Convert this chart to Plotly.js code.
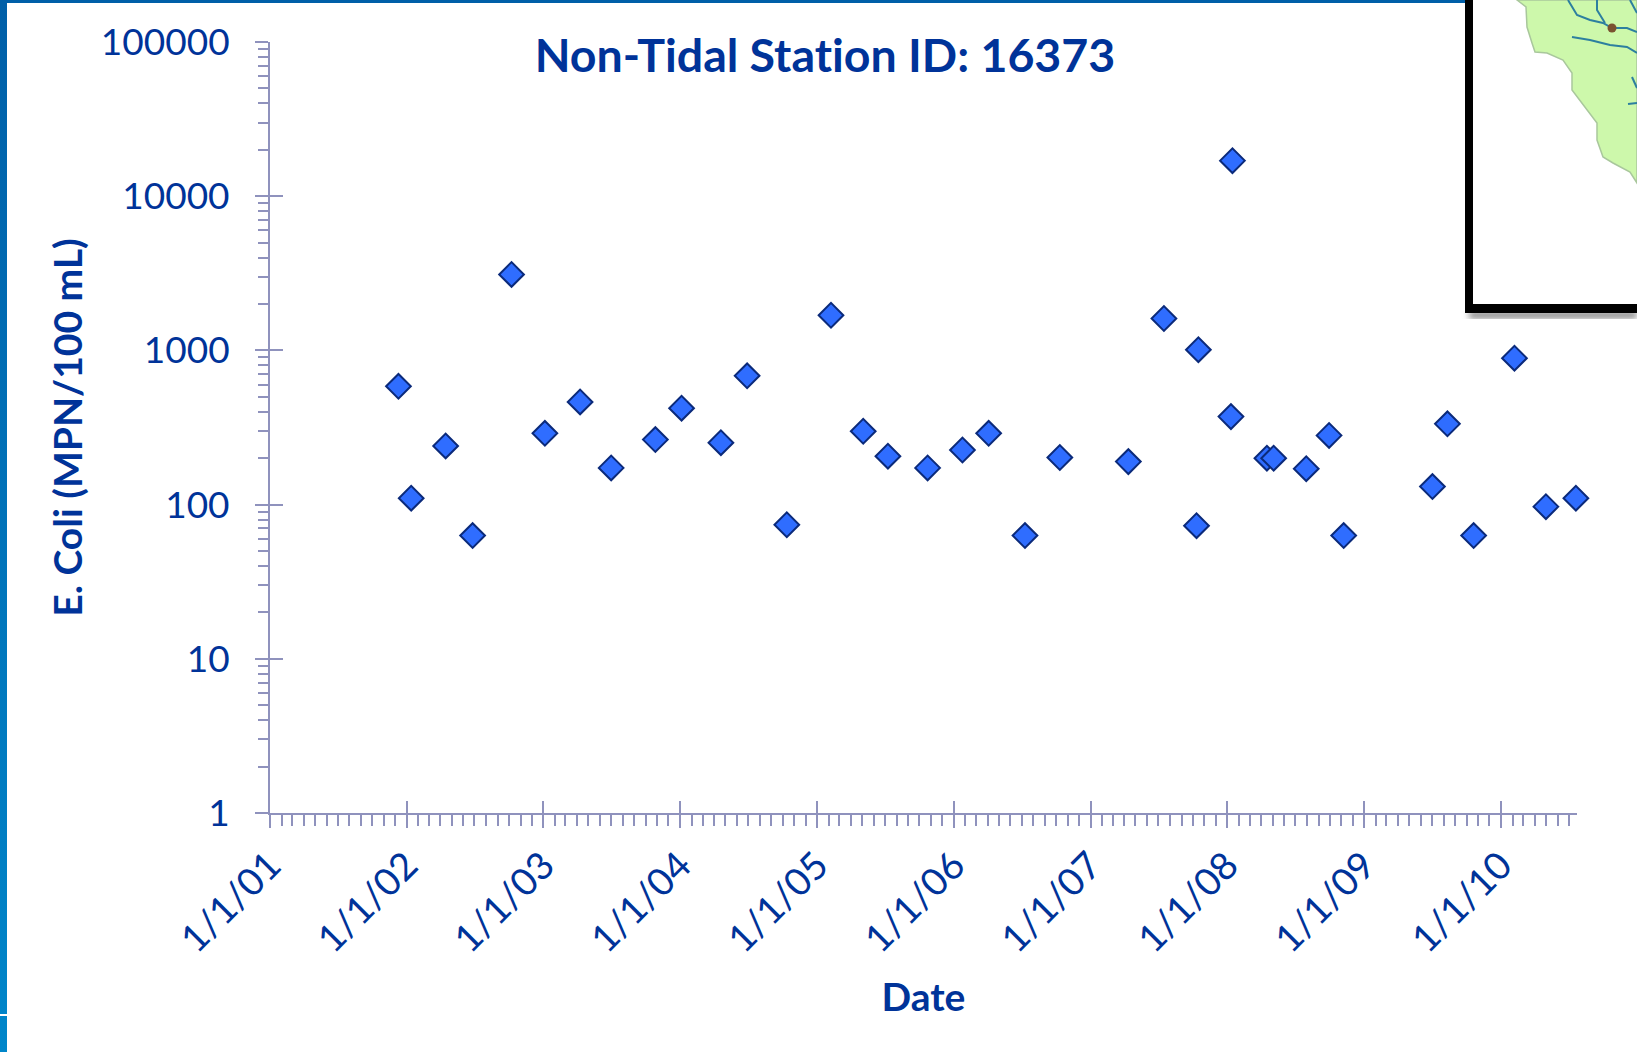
<!DOCTYPE html>
<html><head><meta charset="utf-8">
<script src="https://cdn.plot.ly/plotly-3.0.1.min.js"></script>
<style>
html,body{margin:0;padding:0;background:#fff;width:1637px;height:1052px;overflow:hidden}
#chart{position:absolute;left:0;top:0;width:1637px;height:1052px}
#chart text, #chart tspan{font-variant-ligatures:none;font-feature-settings:"liga" 0,"clig" 0,"dlig" 0,"calt" 0}
.bar-left{position:absolute;left:0;top:0;width:7px;height:1052px;background:linear-gradient(#005fa8,#0086ca)}
.bar-gap{position:absolute;left:0;top:1014px;width:7px;height:2px;background:#fff}
.bar-top{position:absolute;left:0;top:0;width:1465px;height:3px;background:#005fa8}
#inset{position:absolute;left:0;top:0;pointer-events:none}
</style></head><body>
<div id="chart"></div>
<div class="bar-left"></div><div class="bar-gap"></div><div class="bar-top"></div>
<svg id="inset" width="1637" height="1052">
  <defs><filter id="blur"><feGaussianBlur stdDeviation="3"/></filter></defs>
  <rect x="1469" y="312" width="168" height="6" fill="#777" filter="url(#blur)"/>
  <rect x="1465" y="0" width="172" height="313" fill="#000"/>
  <rect x="1473" y="0" width="164" height="304" fill="#fff"/>
  <path d="M1517,0 L1526,7 L1527,27 L1532,43 L1535,52 L1547,53 L1563,60 L1572,73 L1572,90 L1597,123 L1597,140 L1603,157 L1613,163 L1630,172 L1637,183 L1637,0 Z" fill="#cdf8ab" stroke="#a9c79c" stroke-width="1.5"/>
  <g fill="none" stroke="#2d7f9f" stroke-width="2">
    <path d="M1568,0 L1577,15 L1590,20 L1603,23 L1612,28 L1627,28 L1637,32"/>
    <path d="M1597,0 L1597,10 L1605,23"/>
    <path d="M1630,0 L1637,13"/>
    <path d="M1572,37 L1590,40 L1610,45 L1627,47 L1637,53"/>
    <path d="M1632,77 L1637,88"/>
    <path d="M1628,104 L1637,103"/>
  </g>
  <circle cx="1612" cy="28" r="4.5" fill="#7a5230"/>
</svg>
<script>
const dates = ["2001-12-10","2002-01-13","2002-04-15","2002-06-26","2002-10-08","2003-01-05","2003-04-09","2003-07-01","2003-10-27","2004-01-05","2004-04-19","2004-06-28","2004-10-12","2005-02-07","2005-05-04","2005-07-09","2005-10-23","2006-01-24","2006-04-04","2006-07-10","2006-10-11","2007-04-12","2007-07-16","2007-10-11","2007-10-16","2008-01-11","2008-01-15","2008-04-16","2008-05-04","2008-07-30","2008-09-29","2008-11-07","2009-07-02","2009-08-11","2009-10-20","2010-02-06","2010-05-01","2010-07-20"];
const ecoli = [585,110,240,63,3110,290,463,173,264,422,252,684,74,1690,299,206,173,226,290,63,202,190,1610,73,1010,372,17000,200,200,171,281,63,131,334,63,890,97,110];
const xRange = ["2001-01-01","2010-07-23"];
const yRange = [0,5];
const ink = "#003399", axisInk = "#8f92bd";
const font = "Lato, 'Open Sans', sans-serif";

const traces = [
  {type:"scatter",mode:"markers",x:dates,y:ecoli,cliponaxis:false,
   marker:{symbol:"diamond",size:19,color:"#2f6dff",line:{color:"#0b2a7a",width:2}},
   hoverinfo:"x+y"},
  {type:"scatter",mode:"markers",x:[],y:[],xaxis:"x2",yaxis:"y2",showlegend:false}
];
const layout = {
  width:1637,height:1052,showlegend:false,
  paper_bgcolor:"rgba(0,0,0,0)",plot_bgcolor:"rgba(0,0,0,0)",
  margin:{l:270,r:60.3,t:42,b:239,pad:0},
  font:{family:font,color:ink},
  title:{text:"<b>Non-Tidal Station ID: 16373</b>",x:825/1637,xref:"container",xanchor:"center",
         y:1-56/1052,yref:"container",yanchor:"middle",font:{size:46.5,color:ink,family:font}},
  xaxis:{type:"date",range:xRange,showgrid:false,zeroline:false,showline:true,linecolor:axisInk,linewidth:2,
         ticks:"outside",ticklen:13,tickwidth:2,tickcolor:axisInk,
         dtick:"M12",tick0:"2001-01-01",tickformat:"%-m/%-d/%y",tickangle:-45,ticklabelstandoff:0,
         tickfont:{size:38,color:ink,family:font},
         minor:{dtick:"M1",ticks:"outside",ticklen:11,tickwidth:2,tickcolor:axisInk,showgrid:false},
         title:{text:"<b>Date</b>",standoff:24,font:{size:39,color:ink,family:font}}},
  yaxis:{type:"log",range:yRange,showgrid:false,zeroline:false,showline:true,linecolor:axisInk,linewidth:2,
         ticks:"outside",ticklen:13,tickwidth:2,tickcolor:axisInk,
         dtick:1,exponentformat:"none",tickformat:"d",ticklabelstandoff:18,
         tickfont:{size:37,color:ink,family:font},
         minor:{dtick:"D1",ticks:"outside",ticklen:10,tickwidth:2,tickcolor:axisInk,showgrid:false},
         title:{text:"<b>E. Coli (MPN/100 mL)</b>",standoff:6,font:{size:39,color:ink,family:font}}},
  xaxis2:{type:"date",range:xRange,overlaying:"x",anchor:"y",side:"bottom",showgrid:false,zeroline:false,showline:false,
          ticks:"inside",ticklen:12,tickwidth:2,tickcolor:axisInk,dtick:"M12",tick0:"2001-01-01",showticklabels:false},
  yaxis2:{type:"log",range:yRange,overlaying:"y",anchor:"x",side:"left",showgrid:false,zeroline:false,showline:false,
          ticks:"inside",ticklen:13,tickwidth:2,tickcolor:axisInk,dtick:1,showticklabels:false}
};
Plotly.newPlot("chart",traces,layout,{displayModeBar:false,responsive:false});
</script>
</body></html>
